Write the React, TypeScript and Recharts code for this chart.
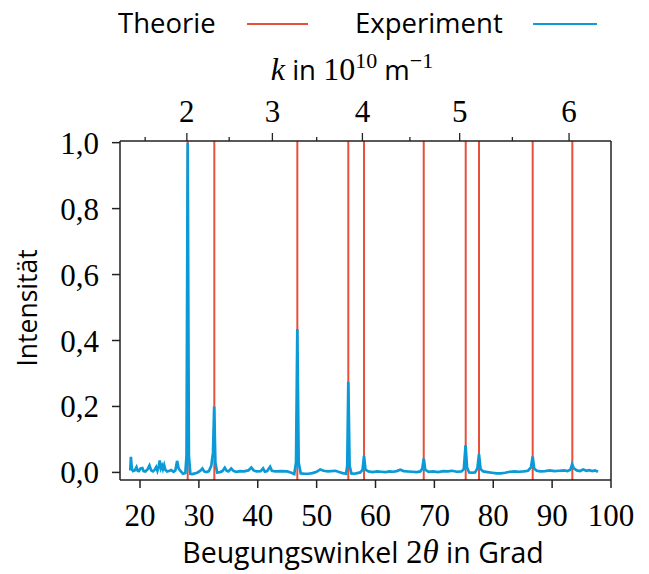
import React from 'react'
import { ComposedChart, Line, XAxis, YAxis, ReferenceLine } from 'recharts'

// Experiment: [2θ in Grad, Intensität]
const experiment: [number, number][] = [
  [18.35, 0.006], [18.45, 0.047], [18.6, 0.012], [18.8, 0.004], [19.1, 0.006],
  [19.4, 0.016], [19.6, 0.005], [19.8, 0.004], [20.1, 0.012], [20.4, 0.013],
  [20.6, 0.004], [20.9, 0.003], [21.3, 0.01], [21.6, 0.021], [21.9, 0.006],
  [22.2, 0.003], [22.5, 0.008], [22.75, 0.016], [22.95, 0.005], [23.2, 0.02],
  [23.35, 0.036], [23.55, 0.012], [23.75, 0.02], [23.9, 0.01], [24.1, 0.022],
  [24.3, 0.008], [24.6, 0.003], [25.0, 0.005], [25.3, 0.007], [25.7, 0.002],
  [26.0, 0.006], [26.3, 0.035], [26.55, 0.012], [26.9, 0.004], [27.3, -0.004],
  [27.7, -0.002], [27.9, 0.05], [28.1, 1.0], [28.3, 0.05], [28.55, -0.004],
  [28.9, -0.005], [29.3, -0.003], [29.8, 0.0], [30.3, 0.006], [30.6, 0.012],
  [30.9, 0.003], [31.3, 0.001], [31.7, 0.004], [32.1, 0.02], [32.4, 0.06],
  [32.6, 0.2], [32.8, 0.03], [33.1, 0.0], [33.6, 0.001], [34.0, 0.004],
  [34.4, 0.014], [34.7, 0.005], [35.0, 0.003], [35.5, 0.012], [35.9, 0.004],
  [36.4, 0.002], [37.0, 0.004], [37.7, 0.003], [38.4, 0.006], [38.9, 0.015],
  [39.3, 0.006], [39.8, 0.003], [40.5, 0.004], [40.9, 0.012], [41.2, 0.002],
  [41.6, 0.004], [42.1, 0.017], [42.4, 0.005], [43.0, 0.003], [44.0, 0.004],
  [45.0, 0.003], [45.7, -0.001], [46.2, -0.005], [46.5, 0.03], [46.72, 0.435],
  [46.95, 0.03], [47.3, -0.003], [48.0, -0.004], [48.6, -0.004], [49.3, -0.002],
  [50.0, 0.002], [50.6, 0.009], [51.2, 0.005], [51.9, 0.003], [52.5, 0.004],
  [53.2, 0.005], [53.8, 0.001], [54.4, -0.002], [55.0, -0.004], [55.2, 0.02],
  [55.38, 0.275], [55.6, 0.02], [55.9, -0.003], [56.4, -0.004], [56.9, -0.002],
  [57.4, 0.0], [57.8, 0.008], [58.05, 0.05], [58.3, 0.008], [58.8, 0.003],
  [59.5, 0.001], [60.3, 0.003], [61.0, 0.002], [61.7, 0.001], [62.4, 0.003],
  [63.0, 0.002], [63.6, 0.004], [64.2, 0.008], [64.8, 0.004], [65.4, 0.003],
  [66.2, 0.002], [67.0, 0.001], [67.6, 0.003], [67.95, 0.012], [68.2, 0.042],
  [68.45, 0.008], [69.0, 0.002], [69.8, 0.003], [70.6, 0.001], [71.5, 0.004],
  [72.3, 0.003], [73.0, 0.005], [73.8, 0.002], [74.6, 0.003], [75.0, 0.01],
  [75.3, 0.082], [75.55, 0.015], [75.9, 0.0], [76.4, -0.001], [76.9, 0.0],
  [77.3, 0.012], [77.58, 0.055], [77.85, 0.01], [78.3, 0.003], [79.0, 0.001],
  [79.8, -0.001], [80.6, -0.003], [81.3, -0.003], [82.0, -0.001], [82.8, 0.002],
  [83.6, 0.003], [84.4, 0.002], [85.2, 0.003], [85.9, 0.005], [86.4, 0.015],
  [86.7, 0.048], [86.95, 0.012], [87.4, 0.005], [88.0, 0.003], [88.8, 0.004],
  [89.6, 0.006], [90.4, 0.004], [91.2, 0.005], [92.0, 0.006], [92.6, 0.004],
  [93.1, 0.008], [93.4, 0.025], [93.7, 0.012], [94.2, 0.006], [94.7, 0.004],
  [95.3, 0.009], [95.8, 0.005], [96.3, 0.007], [96.8, 0.004], [97.3, 0.006],
  [97.8, 0.002],
]

// Theorie: Reflexlagen 2θ
const theory = [28.1, 32.62, 46.72, 55.38, 58.05, 68.19, 75.32, 77.58, 86.7, 93.43]

const xTicks = [20, 30, 40, 50, 60, 70, 80, 90, 100]
const yTicks = [0, 0.2, 0.4, 0.6, 0.8, 1.0]
const kMajor = [2, 3, 4, 5, 6]
const kMinor = [1.5, 2.5, 3.5, 4.5, 5.5]

const K_PER_SIN = 8.28 // k = 4π sin(θ) / λ, in 10^10 m^-1
const kToAngle = (k: number) => (2 * Math.asin(k / K_PER_SIN) * 180) / Math.PI
const angleToK = (a: number) => K_PER_SIN * Math.sin((a * Math.PI) / 360)

const X_DOMAIN: [number, number] = [16.6, 100]
const Y_DOMAIN: [number, number] = [-0.023, 1.005]
const PLOT_TOP = 141

const RED = '#e8503c'
const BLUE = '#0a9ad7'
const AXIS = '#222'
const SERIF = '"Liberation Serif", serif'
const SANS = '"Open Sans", sans-serif'

const data = experiment.map(([angle, intensity]) => ({ angle, intensity }))
const kTicks = [...kMinor, ...kMajor].map(kToAngle).sort((a, b) => a - b)

const KTick = (props: any) => {
  const { x, payload } = props
  const k = Math.round(angleToK(payload.value) * 10) / 10
  const major = Number.isInteger(k)
  return (
    <g>
      <line x1={x} x2={x} y1={PLOT_TOP} y2={PLOT_TOP - (major ? 8 : 4)} stroke={AXIS} strokeWidth={1.3} />
      {major && (
        <text x={x} y={122} textAnchor='middle' fontFamily={SERIF} fontSize={31} fill='#000'>
          {k}
        </text>
      )}
    </g>
  )
}

export default function App() {
  return (
    <div style={{ position: 'absolute', left: 0, top: 0, width: 649, height: 574, background: '#fff' }}>
      <ComposedChart width={649} height={574} data={data} margin={{ top: 81, right: 28, bottom: 34, left: 40 }}>
        <XAxis
          xAxisId='x'
          dataKey='angle'
          type='number'
          domain={X_DOMAIN}
          ticks={xTicks}
          interval={0}
          allowDataOverflow
          height={60}
          tickSize={8}
          tickMargin={16}
          stroke={AXIS}
          strokeWidth={1.5}
          tick={{ fontFamily: SERIF, fontSize: 31, fill: '#000' }}
        />
        <XAxis
          xAxisId='k'
          dataKey='angle'
          orientation='top'
          type='number'
          domain={X_DOMAIN}
          ticks={kTicks}
          interval={0}
          allowDataOverflow
          height={60}
          tickLine={false}
          stroke={AXIS}
          strokeWidth={1.5}
          tick={<KTick />}
        />
        <YAxis
          yAxisId='l'
          type='number'
          domain={Y_DOMAIN}
          ticks={yTicks}
          interval={0}
          allowDataOverflow
          width={80}
          tickSize={8}
          tickMargin={13}
          stroke={AXIS}
          strokeWidth={1.5}
          tickFormatter={(v: number) => v.toFixed(1).replace('.', ',')}
          tick={{ fontFamily: SERIF, fontSize: 31, fill: '#000' }}
        />
        <YAxis
          yAxisId='r'
          orientation='right'
          type='number'
          domain={Y_DOMAIN}
          ticks={yTicks}
          interval={0}
          allowDataOverflow
          width={10}
          tickSize={8}
          tick={false}
          stroke={AXIS}
          strokeWidth={1.5}
        />
        {theory.map((a) => (
          <ReferenceLine key={a} xAxisId='x' yAxisId='l' x={a} stroke={RED} strokeWidth={2} />
        ))}
        <Line
          xAxisId='x'
          yAxisId='l'
          dataKey='intensity'
          type='linear'
          stroke={BLUE}
          strokeWidth={2.7}
          dot={false}
          isAnimationActive={false}
        />
      </ComposedChart>
      <svg width={649} height={574} style={{ position: 'absolute', left: 0, top: 0, pointerEvents: 'none' }}>
        <text x={118} y={33} fontFamily={SANS} fontSize={27.5} fill='#000'>Theorie</text>
        <line x1={247} x2={308} y1={24} y2={24} stroke={RED} strokeWidth={2} />
        <text x={355} y={33} fontFamily={SANS} fontSize={27.5} fill='#000'>Experiment</text>
        <line x1={533} x2={597} y1={24} y2={24} stroke={BLUE} strokeWidth={2} />
        <text x={352} y={80} textAnchor='middle' fill='#000'>
          <tspan fontFamily={SERIF} fontStyle='italic' fontSize={32}>k</tspan>
          <tspan fontFamily={SANS} fontSize={27.5}> in </tspan>
          <tspan fontFamily={SERIF} fontSize={32}>10</tspan>
          <tspan fontFamily={SERIF} fontSize={22} dy={-12}>10</tspan>
          <tspan fontFamily={SANS} fontSize={27.5} dy={12}> m</tspan>
          <tspan fontFamily={SERIF} fontSize={22} dy={-12}>−1</tspan>
        </text>
        <text x={363} y={563} textAnchor='middle' fill='#000'>
          <tspan fontFamily={SANS} fontSize={28.5}>Beugungswinkel </tspan>
          <tspan fontFamily={SERIF} fontSize={33}>2</tspan>
          <tspan fontFamily={SERIF} fontStyle='italic' fontSize={33}>θ</tspan>
          <tspan fontFamily={SANS} fontSize={28.5}> in Grad</tspan>
        </text>
        <text x={37} y={308} textAnchor='middle' transform='rotate(-90 37 308)' fontFamily={SANS} fontSize={26.5} fill='#000'>
          Intensität
        </text>
      </svg>
    </div>
  )
}
